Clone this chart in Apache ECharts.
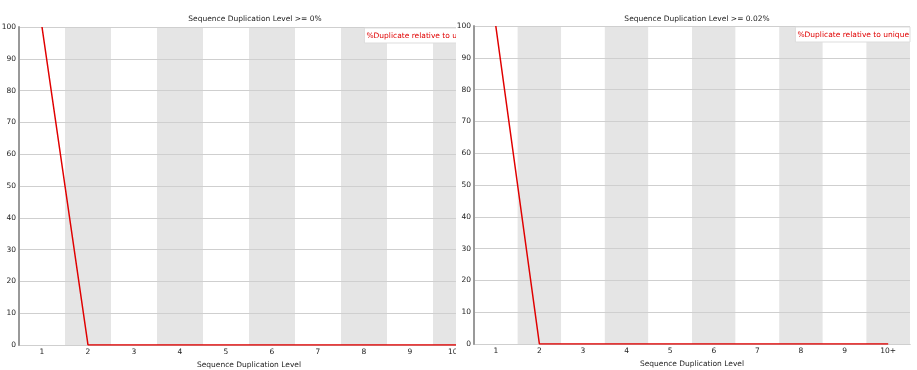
<!DOCTYPE html>
<html><head><meta charset="utf-8">
<script src="https://cdn.jsdelivr.net/npm/echarts@6/dist/echarts.min.js"></script>
<style>
html,body{margin:0;padding:0;background:#fff;}
#c1{position:absolute;left:0;top:0;width:490px;height:370px;}
#c2{position:absolute;left:456px;top:0;width:461px;height:370px;background:#fff;}
</style></head>
<body>
<div id="c1"></div><div id="c2"></div>
<script>
const categories = ['1','2','3','4','5','6','7','8','9','10+'];
const valuesAll = [100,0,0,0,0,0,0,0,0,0];
const valuesFiltered = [100,0,0,0,0,0,0,0,0,0];
const yTicks = [0,10,20,30,40,50,60,70,80,90,100];
const titles = ['Sequence Duplication Level >= 0%','Sequence Duplication Level >= 0.02%'];
const seriesName = '%Duplicate relative to unique';
const font = 'DejaVu Sans';
const fs = 7.5;

function makeOption(title, values, grid, titleX, legendRight, legendTop){
  return {
    animation:false,
    textStyle:{fontFamily:font},
    title:{text:title,left:titleX,top:10,textAlign:'center',
      textStyle:{fontSize:fs,fontWeight:'normal',color:'#222',fontFamily:font}},
    legend:{data:[{name:seriesName,icon:'rect'}],right:legendRight,top:legendTop,itemWidth:0,itemHeight:0,itemGap:0,
      backgroundColor:'#fff',borderColor:'#ddd',borderWidth:1,padding:[4,1,3,1],borderRadius:0,
      textStyle:{color:'#e00000',fontSize:fs,fontFamily:font,padding:[0,0,0,-4]}},
    grid:Object.assign({outerBoundsMode:'none',containLabel:false},grid),
    xAxis:{type:'category',data:categories,boundaryGap:true,z:0,
      name:'Sequence Duplication Level',nameLocation:'middle',nameGap:13,
      nameTextStyle:{fontSize:fs,color:'#222',fontFamily:font},
      axisLine:{lineStyle:{color:'#aaa'}},axisTick:{show:false},
      axisLabel:{fontSize:fs,color:'#222',margin:3,fontFamily:font,interval:0},
      splitArea:{show:true,areaStyle:{color:['#ffffff','#e5e5e5']}},
      splitLine:{show:false}},
    yAxis:{type:'value',min:yTicks[0],max:yTicks[yTicks.length-1],interval:10,z:1,
      axisLine:{show:true,lineStyle:{color:'#999',width:2}},axisTick:{show:false},
      axisLabel:{fontSize:fs,color:'#222',margin:3,fontFamily:font},
      splitLine:{show:true,lineStyle:{color:'#cfcfcf',width:1}}},
    series:[{name:seriesName,type:'line',data:values,symbol:'none',z:3,
      lineStyle:{color:'#e00000',width:1.5},itemStyle:{color:'#e00000'}}]
  };
}
const g1 = {left:19,top:27,width:460,bottom:25};
echarts.init(document.getElementById('c1')).setOption(makeOption(titles[0], valuesAll, g1, 250, 11, 28));
const g2 = {left:18,top:26,right:7,bottom:26};
echarts.init(document.getElementById('c2')).setOption(makeOption(titles[1], valuesFiltered, g2, 236, 7, 27));
</script>
</body></html>
